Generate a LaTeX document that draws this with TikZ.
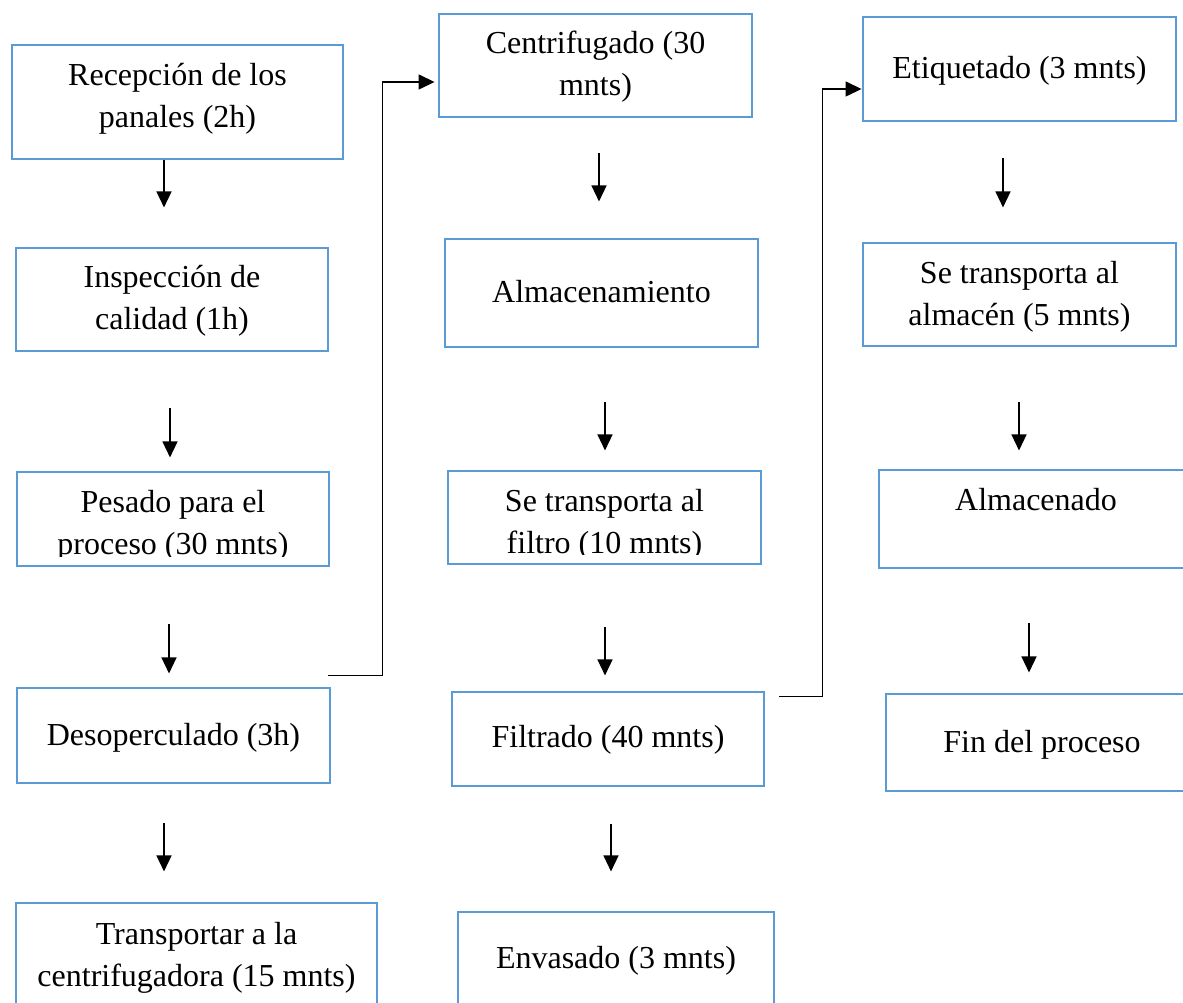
\documentclass[tikz,border=0pt]{standalone}
\usepackage{fontspec}
\setmainfont{Liberation Serif}
\usetikzlibrary{positioning, arrows.meta}
\definecolor{azulcaja}{HTML}{5B9BD5}

\begin{document}
\begin{tikzpicture}[x=1pt, y=-1pt,
  caja/.style={draw=azulcaja, line width=2.9pt, inner sep=0pt},
  texto/.style={anchor=north, align=center, inner sep=0pt, font=\fontsize{32}{42}\selectfont},
  flecha/.style={line width=1.4pt, -{Triangle[length=16pt, width=15pt]}}]
\clip (0,0) rectangle (1183,1003);

% Primera columna
\node[caja, minimum width=331pt, minimum height=114pt] (recepcion) at (177.5,102) {};
\node[texto, below=12pt of recepcion.north] (trecepcion) {\strut Recepción de los\\panales (2h)\strut};
\node[caja, minimum width=312pt, minimum height=103pt] (inspeccion) at (172,299.5) {};
\node[texto, below=11pt of inspeccion.north] (tinspeccion) {\strut Inspección de\\calidad (1h)\strut};
\node[caja, minimum width=312pt, minimum height=94pt] (pesado) at (173,519) {};
\begin{scope}
\clip (pesado.north west) rectangle ([yshift=11pt]pesado.south east);
\node[texto, below=12.5pt of pesado.north] (tpesado) {\strut Pesado para el\\proceso (30 mnts)\strut};
\end{scope}
\node[caja, minimum width=313pt, minimum height=95pt] (desoperculado) at (173.5,735.5) {};
\node[texto, below=29pt of desoperculado.north] (tdesoperculado) {\strut Desoperculado (3h)\strut};
\node[caja, minimum width=361pt, minimum height=108pt] (transportar) at (196.5,957) {};
\node[texto, below=13pt of transportar.north] (ttransportar) {\strut Transportar a la\\centrifugadora (15 mnts)\strut};

\draw[flecha] ([shift={(-13.5,0)}]recepcion.south) -- ++(0,47);
\draw[flecha] ([shift={(-2,56)}]inspeccion.south) -- ++(0,49);
\draw[flecha] ([shift={(-4,57)}]pesado.south) -- ++(0,49);
\draw[flecha] ([shift={(-9.5,39)}]desoperculado.south) -- ++(0,48);

% Segunda columna
\node[caja, minimum width=313pt, minimum height=103pt] (centrifugado) at (595.5,65.5) {};
\node[texto, below=11pt of centrifugado.north] (tcentrifugado) {\strut Centrifugado (30\\mnts)\strut};
\node[caja, minimum width=313pt, minimum height=108pt] (almacenamiento) at (601.5,293) {};
\node[texto, below=35pt of almacenamiento.north] (talmacenamiento) {\strut Almacenamiento\strut};
\node[caja, minimum width=313pt, minimum height=93pt] (filtro) at (604.5,517.5) {};
\begin{scope}
\clip (filtro.north west) rectangle ([yshift=11pt]filtro.south east);
\node[texto, below=12.5pt of filtro.north] (tfiltro) {\strut Se transporta al\\filtro (10 mnts)\strut};
\end{scope}
\node[caja, minimum width=312pt, minimum height=94pt] (filtrado) at (608,739) {};
\node[texto, below=27pt of filtrado.north] (tfiltrado) {\strut Filtrado (40 mnts)\strut};
\node[caja, minimum width=316pt, minimum height=98pt] (envasado) at (616,961) {};
\node[texto, below=28pt of envasado.north] (tenvasado) {\strut Envasado (3 mnts)\strut};

\draw[flecha] ([shift={(3.5,35)}]centrifugado.south) -- ++(0,48);
\draw[flecha] ([shift={(3.5,54)}]almacenamiento.south) -- ++(0,48);
\draw[flecha] ([shift={(0.5,62)}]filtro.south) -- ++(0,48);
\draw[flecha] ([shift={(3,37)}]filtrado.south) -- ++(0,47);

% Tercera columna
\node[caja, minimum width=313pt, minimum height=104pt] (etiquetado) at (1019.5,69) {};
\node[texto, below=33pt of etiquetado.north] (tetiquetado) {\strut Etiquetado (3 mnts)\strut};
\node[caja, minimum width=313pt, minimum height=103pt] (almacen) at (1019.5,294.5) {};
\node[texto, below=12pt of almacen.north] (talmacen) {\strut Se transporta al\\almacén (5 mnts)\strut};
\node[caja, minimum width=314pt, minimum height=98pt] (almacenado) at (1036,519) {};
\node[texto, below=12pt of almacenado.north] (talmacenado) {\strut Almacenado\strut};
\node[caja, minimum width=312pt, minimum height=97pt] (fin) at (1042,742.5) {};
\node[texto, below=30pt of fin.north] (tfin) {\strut Fin del proceso\strut};

\draw[flecha] ([shift={(-16.5,36)}]etiquetado.south) -- ++(0,49);
\draw[flecha] ([shift={(-0.5,55)}]almacen.south) -- ++(0,48);
\draw[flecha] ([shift={(-7,54)}]almacenado.south) -- ++(0,49);

% Enlaces entre columnas
\draw[flecha] ([shift={(-3,-11)}]desoperculado.north east) -- ++(54,0) |- ([shift={(-3,16.5)}]centrifugado.west);
\draw[flecha] ([shift={(14,6)}]filtrado.north east) -- ++(43,0) |- ([shift={(0,20)}]etiquetado.west);
\end{tikzpicture}
\end{document}
